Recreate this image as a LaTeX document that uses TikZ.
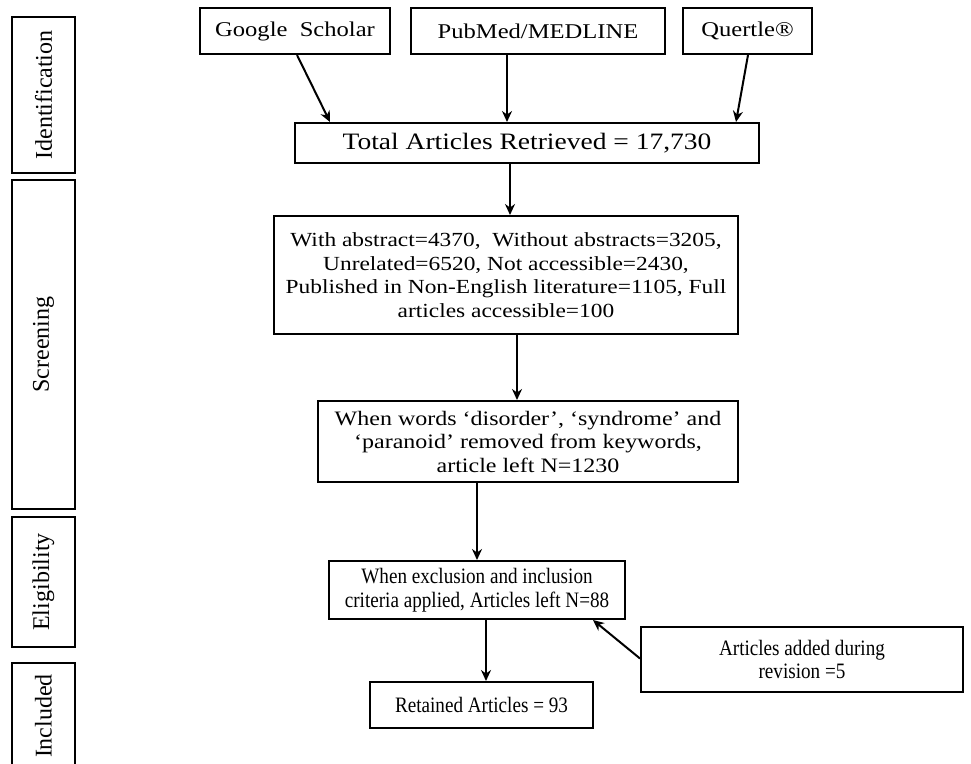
\documentclass[tikz,border=0pt]{standalone}
\usepackage{fontspec}
\setmainfont{Liberation Serif}
\newfontfamily\fwide{Liberation Serif}[FakeStretch=1.17]
\newfontfamily\fnarrow{Liberation Serif}[FakeStretch=0.87]
\usetikzlibrary{arrows.meta}
\begin{document}
\begin{tikzpicture}[x=1pt,y=-1pt,
  box/.style={draw, line width=2pt, align=center, inner sep=1pt},
  wide/.style={font=\fwide\fontsize{#1}{23.5}\selectfont},
  narrow/.style={font=\fnarrow\fontsize{#1}{23.5}\selectfont},
  side/.style={draw, line width=2pt, inner sep=0pt, minimum width=63pt,
    font=\fontsize{24}{26}\selectfont},
  arr/.style={line width=2pt, -{Stealth[length=11pt,width=10pt]}}]
\useasboundingbox (0,0) rectangle (971,763);
% side labels
\node[side, minimum height=156pt] (sid) at (43.5,95) {\rotatebox{90}{Identification}};
\node[side, minimum height=329pt] (sscr) at (43.5,344.5) {\rotatebox{90}{Screening}};
\node[side, minimum height=130pt] (selg) at (43.5,582) {\rotatebox{90}{Eligibility}};
\node[side, minimum height=106pt] (sinc) at (43.5,716) {\rotatebox{90}{Included}};
% sources
\node[box, wide=21, minimum width=190pt, minimum height=46pt] (gs) at (295,31) {Google\ \ Scholar};
\node[box, wide=21, minimum width=254pt, minimum height=46pt] (pm) at (538,31) {PubMed/MEDLINE};
\node[box, wide=21, minimum width=129pt, minimum height=46pt] (qt) at (747.5,31) {Quertle®};
% main flow
\node[box, wide=23.5, minimum width=464pt, minimum height=40pt] (tot) at (527,143) {Total Articles Retrieved = 17,730};
\node[box, wide=20, minimum width=464pt, minimum height=118pt] (scr) at (506,275)
  {With abstract=4370,\ \ Without abstracts=3205,\\Unrelated=6520, Not accessible=2430,\\Published in Non-English literature=1105, Full\\articles accessible=100};
\node[box, wide=20.5, minimum width=420pt, minimum height=81pt] (kw) at (528,441.5)
  {When words ‘disorder’, ‘syndrome’ and\\‘paranoid’ removed from keywords,\\article left N=1230};
\node[box, narrow=22, minimum width=296pt, minimum height=58pt] (ex) at (477,590)
  {When exclusion and inclusion\\criteria applied, Articles left N=88};
\node[box, narrow=22, minimum width=223pt, minimum height=46pt] (ret) at (481.5,705) {Retained Articles = 93};
\node[box, narrow=22, minimum width=322pt, minimum height=65pt] (add) at (802,659.5)
  {Articles added during\\revision =5};
% arrows
\draw[arr] ([xshift=2pt]gs.south) -- ([xshift=-197pt]tot.north);
\draw[arr] ([xshift=-31pt]pm.south) -- ([xshift=-20pt]tot.north);
\draw[arr] ([xshift=0.5pt]qt.south) -- ([xshift=209pt]tot.north);
\draw[arr] ([xshift=-17pt]tot.south) -- ([xshift=4pt]scr.north);
\draw[arr] ([xshift=11pt]scr.south) -- ([xshift=-11pt]kw.north);
\draw[arr] ([xshift=-51pt]kw.south) -- (ex.north);
\draw[arr] ([xshift=9pt]ex.south) -- ([xshift=4.5pt]ret.north);
\draw[arr] ([yshift=1pt]add.west) -- ([xshift=116pt]ex.south);
\end{tikzpicture}
\end{document}
